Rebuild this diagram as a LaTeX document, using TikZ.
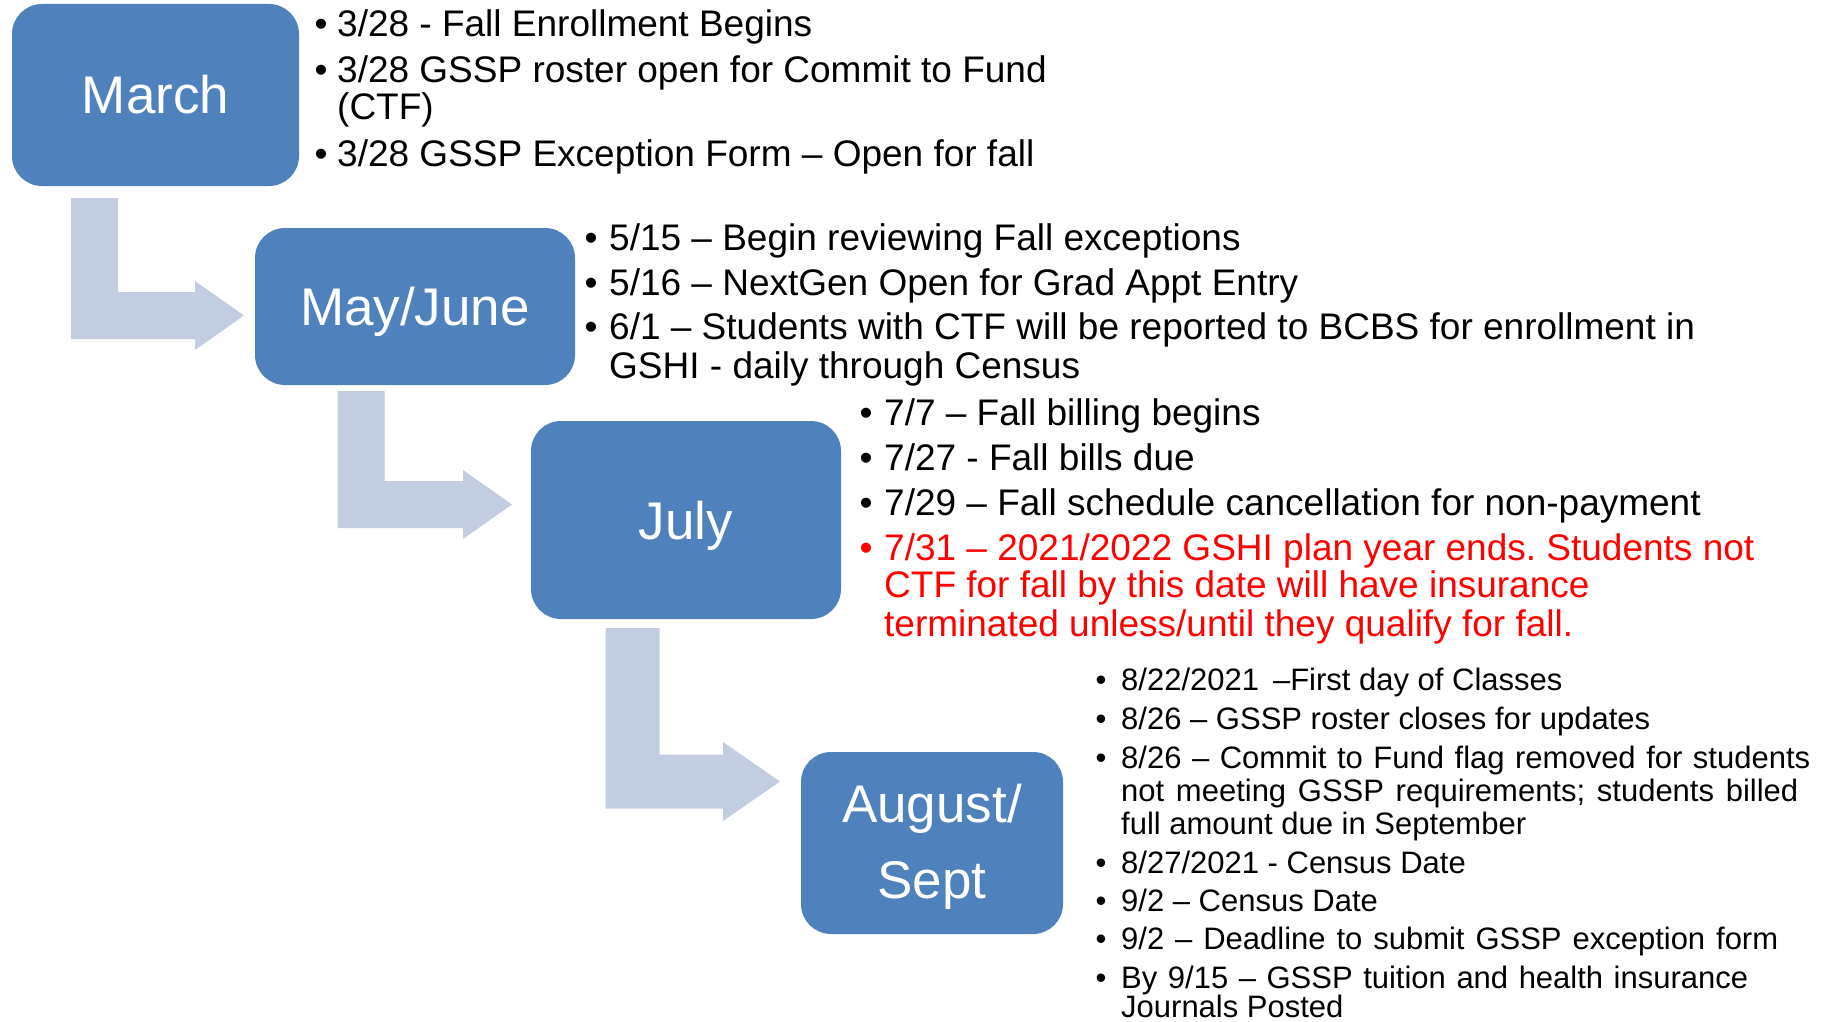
\documentclass[tikz,border=0pt]{standalone}
\usepackage{fontspec}
\setmainfont{Liberation Sans}
\usetikzlibrary{calc}
\frenchspacing
\definecolor{boxblue}{HTML}{4F81BD}
\definecolor{arrowblue}{HTML}{C3CDE2}
\definecolor{alertred}{HTML}{FF0000}

% bent (L-shaped) arrow: #1 top of the vertical bar, #2 tip,
% #3 half bar width, #4 half head height, #5 head length
\newcommand\bentarrow[5]{%
  \fill[lshape] let \p1=(#1), \p2=(#2) in
    (\x1-#3,\y1) -- (\x1+#3,\y1) -- (\x1+#3,\y2+#3) -- (\x2-#5,\y2+#3)
    -- (\x2-#5,\y2+#4) -- (\x2,\y2) -- (\x2-#5,\y2-#4) -- (\x2-#5,\y2-#3)
    -- (\x1-#3,\y2-#3) -- cycle;}

\begin{document}
\begin{tikzpicture}[x=1pt,y=-1pt,
  month/.style={fill=boxblue, draw=none, rounded corners=30pt, inner sep=0pt,
    text=white, font=\fontsize{53}{76}\selectfont, align=center},
  capline/.style={text height=38pt, text depth=0pt},
  line/.style={anchor=base west, inner sep=0pt, font=\fontsize{37}{40}\selectfont},
  dot/.style={anchor=base, inner sep=0pt, font=\fontsize{37}{40}\selectfont},
  sline/.style={anchor=base west, inner sep=0pt, font=\fontsize{31}{34}\selectfont},
  sdot/.style={anchor=base, inner sep=0pt, font=\fontsize{31}{34}\selectfont},
  lshape/.style={fill=arrowblue, draw=none}]
\useasboundingbox (0,0) rectangle (1828,1022);

% month boxes
\node[month, capline, minimum width=287pt, minimum height=182pt] (march) at (155.5,95) {March};
\node[month, capline, minimum width=320pt, minimum height=157pt] (mayjune) at (415,306.5) {May/June};
\node[month, capline, minimum width=310pt, minimum height=198pt] (july) at (686,520) {July};
\node[month, minimum width=262pt, minimum height=182pt] (augsept) at (932,843) {\rule{0pt}{46pt}August/\\Sept};

% bent arrows between consecutive months
\coordinate (a1top) at (94.5,198);  \coordinate (a1tip) at (244,315.5);
\coordinate (a2top) at (361,391);   \coordinate (a2tip) at (512,504.5);
\coordinate (a3top) at (632.5,628); \coordinate (a3tip) at (780,781.5);
\bentarrow{a1top}{a1tip}{23.5pt}{34.5pt}{49pt}
\bentarrow{a2top}{a2tip}{23.5pt}{34.5pt}{49pt}
\bentarrow{a3top}{a3tip}{27pt}{39.5pt}{57pt}

% March items
\node[dot] (mb1) at (321,37) {•};
\node[line] (m1) at (337,37) {3/28 - Fall Enrollment Begins};
\node[dot] (mb2) at (321,83) {•};
\node[line] (m2) at (337,83) {3/28 GSSP roster open for Commit to Fund};
\node[line] (m2b) at (337,120) {(CTF)};
\node[dot] (mb3) at (321,166) {•};
\node[line] (m3) at (337,166) {3/28 GSSP Exception Form – Open for fall};

% May/June items
\node[dot] (jb1) at (591,250) {•};
\node[line] (j1) at (609,250) {5/15 – Begin reviewing Fall exceptions};
\node[dot] (jb2) at (591,295) {•};
\node[line] (j2) at (609,295) {5/16 – NextGen Open for Grad Appt Entry};
\node[dot] (jb3) at (591,339) {•};
\node[line] (j3) at (609,339) {6/1 – Students with CTF will be reported to BCBS for enrollment in};
\node[line] (j3b) at (609,378) {GSHI - daily through Census};

% July items
\node[dot] (lb1) at (866,425) {•};
\node[line] (l1) at (884,425) {7/7 – Fall billing begins};
\node[dot] (lb2) at (866,470) {•};
\node[line] (l2) at (884,470) {7/27 - Fall bills due};
\node[dot] (lb3) at (866,515) {•};
\node[line] (l3) at (884,515) {7/29 – Fall schedule cancellation for non-payment};
\node[dot, text=alertred] (lb4) at (866,560) {•};
\node[line, text=alertred] (l4) at (884,560) {7/31 – 2021/2022 GSHI plan year ends. Students not};
\node[line, text=alertred] (l4b) at (884,597) {CTF for fall by this date will have insurance};
\node[line, text=alertred] (l4c) at (884,636) {terminated unless/until they qualify for fall.};

% August/Sept items
\node[sdot] (sb1) at (1101,690) {•};
\node[sline] (s1) at (1121,690) {8/22/2021\hspace{0.45em}–First day of Classes};
\node[sdot] (sb2) at (1101,729) {•};
\node[sline] (s2) at (1121,729) {8/26 – GSSP roster closes for updates};
\node[sdot] (sb3) at (1101,768) {•};
\node[sline] (s3) at (1121,768) {\makebox[689pt][s]{8/26 – Commit to Fund flag removed for students}};
\node[sline] (s3b) at (1121,801) {\makebox[677pt][s]{not meeting GSSP requirements; students billed}};
\node[sline] (s3c) at (1121,834) {full amount due in September};
\node[sdot] (sb4) at (1101,873) {•};
\node[sline] (s4) at (1121,873) {8/27/2021 - Census Date};
\node[sdot] (sb5) at (1101,911) {•};
\node[sline] (s5) at (1121,911) {9/2 – Census Date};
\node[sdot] (sb6) at (1101,949) {•};
\node[sline] (s6) at (1121,949) {\makebox[657pt][s]{9/2 – Deadline to submit GSSP exception form}};
\node[sdot] (sb7) at (1101,988) {•};
\node[sline] (s7) at (1121,988) {\makebox[627pt][s]{By 9/15 – GSSP tuition and health insurance}};
\node[sline] (s7b) at (1121,1017) {Journals Posted};
\end{tikzpicture}
\end{document}
